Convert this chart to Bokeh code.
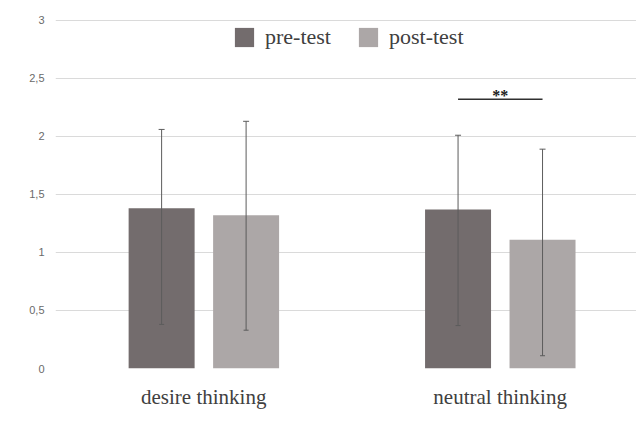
from bokeh.plotting import figure
from bokeh.models import Range1d, FixedTicker, Whisker, TeeHead, ColumnDataSource
from bokeh.transform import dodge
from bokeh.core.properties import value
from bokeh.embed import file_html
from bokeh.resources import INLINE

# ---- data ----
categories = ["desire thinking", "neutral thinking"]
series = ["pre-test", "post-test"]
pre_mean = [1.38, 1.37]
post_mean = [1.32, 1.11]
pre_upper = [2.06, 2.01]
pre_lower = [0.38, 0.37]
post_upper = [2.13, 1.89]
post_lower = [0.33, 0.11]
y_ticks = [0, 0.5, 1, 1.5, 2, 2.5, 3]
y_tick_labels = ["0", "0,5", "1", "1,5", "2", "2,5", "3"]
sig_category = "neutral thinking"
sig_label = "**"
sig_level = 2.32

# ---- styles ----
PRE_COLOR = "#736c6d"
POST_COLOR = "#aca7a7"
ERR_COLOR = "#5c5c5c"
GRID_COLOR = "#dadada"
TEXT_COLOR = "#404040"
OFF_PRE = -0.142
OFF_POST = 0.143
BAR_W = 0.2226

xs = [i + 0.5 for i in range(len(categories))]

p = figure(width=636, height=411,
           x_range=Range1d(0, 1.96), y_range=Range1d(0, 3.171),
           output_backend="svg", toolbar_location=None,
           min_border_left=55, min_border_right=0,
           min_border_top=0, min_border_bottom=41)
p.outline_line_color = None
p.background_fill_color = "white"

src = ColumnDataSource(dict(x=xs, pre=pre_mean, post=post_mean,
                            pre_up=pre_upper, pre_lo=pre_lower,
                            post_up=post_upper, post_lo=post_lower))

p.vbar(x=dodge("x", OFF_PRE, range=p.x_range), top="pre", width=BAR_W,
       source=src, fill_color=PRE_COLOR, line_color=None, legend_label=series[0])
p.vbar(x=dodge("x", OFF_POST, range=p.x_range), top="post", width=BAR_W,
       source=src, fill_color=POST_COLOR, line_color=None, legend_label=series[1])

for off, up, lo in [(OFF_PRE, "pre_up", "pre_lo"), (OFF_POST, "post_up", "post_lo")]:
    w = Whisker(base=dodge("x", off, range=p.x_range), upper=up, lower=lo,
                source=src, level="annotation",
                line_color=ERR_COLOR, line_width=1,
                upper_head=TeeHead(size=6, line_color=ERR_COLOR, line_width=1),
                lower_head=TeeHead(size=5, line_color=ERR_COLOR, line_width=1))
    p.add_layout(w)

# significance bracket
idx = categories.index(sig_category)
sig_src = ColumnDataSource(dict(x=[xs[idx]], y=[sig_level], label=[sig_label]))
p.segment(x0=dodge("x", OFF_PRE, range=p.x_range), x1=dodge("x", OFF_POST, range=p.x_range),
          y0="y", y1="y", source=sig_src, line_color="#303030", line_width=1.5)
p.text(x="x", y="y", text="label", source=sig_src,
       text_font=value("Liberation Serif"), text_font_style="bold",
       text_font_size="16px", text_align="center", text_baseline="alphabetic",
       text_color="#202020", y_offset=-4)

# grid
p.xgrid.grid_line_color = None
p.ygrid.ticker = FixedTicker(ticks=y_ticks)
p.ygrid.grid_line_color = GRID_COLOR
p.ygrid.grid_line_width = 1

# axes
p.yaxis.ticker = FixedTicker(ticks=y_ticks)
p.yaxis.major_label_overrides = dict(zip(y_ticks, y_tick_labels))
p.xaxis.ticker = FixedTicker(ticks=xs)
p.xaxis.major_label_overrides = dict(zip(xs, categories))
for ax in (p.xaxis, p.yaxis):
    ax.axis_line_color = None
    ax.major_tick_line_color = None
    ax.minor_tick_line_color = None
    ax.major_tick_out = 0
    ax.major_tick_in = 0
p.yaxis.major_label_text_font = "Liberation Sans"
p.yaxis.major_label_text_font_size = "11px"
p.yaxis.major_label_text_color = "#6a6a6a"
p.yaxis.major_label_standoff = 11
p.xaxis.major_label_text_font = "Liberation Serif"
p.xaxis.major_label_text_font_size = "21px"
p.xaxis.major_label_text_color = TEXT_COLOR
p.xaxis.major_label_standoff = 16

# legend
lg = p.legend[0]
lg.orientation = "horizontal"
lg.location = (177, 318)
lg.glyph_width = 24
lg.glyph_height = 24
lg.label_standoff = 9
lg.spacing = 25
lg.padding = 0
lg.margin = 0
lg.border_line_color = None
lg.background_fill_alpha = 0
lg.label_text_font = "Liberation Serif"
lg.label_text_font_size = "22px"
lg.label_text_color = TEXT_COLOR
lg.label_height = 24

open("out.html", "w").write(file_html(p, INLINE))
